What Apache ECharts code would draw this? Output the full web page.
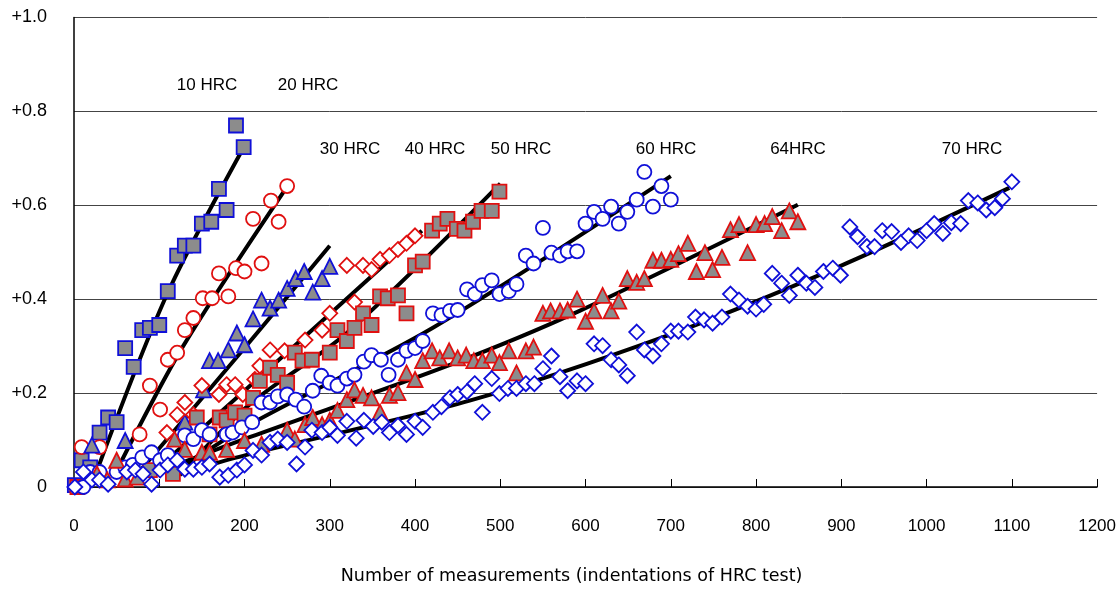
<!DOCTYPE html>
<html><head><meta charset="utf-8">
<script src="https://cdn.jsdelivr.net/npm/echarts@6/dist/echarts.min.js"></script>
<style>html,body{margin:0;padding:0;background:#fff}#c{width:1119px;height:590px}</style>
</head><body><div id="c"></div>
<script>
// ---- data (x = number of measurements, y = value) ----
const hrc10 = [[1,0.004],[9,0.057],[19,0.042],[30,0.116],[40,0.148],[50,0.138],[60,0.296],[70,0.256],[80,0.334],[89,0.339],[100,0.345],[110,0.417],[121,0.493],[130,0.514],[140,0.514],[150,0.561],[161,0.565],[170,0.635],[179,0.590],[190,0.770],[199,0.724]];
const hrc20 = [[9,0.085],[30,0.085],[77,0.112],[89,0.216],[101,0.165],[110,0.271],[121,0.286],[130,0.334],[140,0.360],[151,0.402],[162,0.402],[170,0.455],[181,0.406],[190,0.466],[200,0.459],[210,0.571],[220,0.476],[231,0.610],[240,0.565],[250,0.641]];
const hrc30 = [[21,0.089],[60,0.099],[130,0.138],[152,0.207],[159,0.269],[169,0.269],[181,0.292],[191,0.328],[200,0.303],[210,0.358],[220,0.398],[230,0.381],[240,0.398],[250,0.423],[260,0.444],[270,0.459],[280,0.415],[291,0.444],[300,0.470]];
const hrc40 = [[66,0.042],[109,0.116],[121,0.154],[130,0.180],[140,0.154],[150,0.216],[170,0.197],[179,0.218],[189,0.218],[198,0.197],[212,0.229],[218,0.258],[230,0.292],[247,0.290],[271,0.313],[291,0.334],[300,0.370],[320,0.472],[329,0.394],[339,0.472],[349,0.463],[359,0.485],[370,0.493],[380,0.506],[390,0.519],[400,0.535]];
const hrc50 = [[4,0.0],[89,0.036],[103,0.049],[116,0.028],[144,0.148],[159,0.112],[171,0.148],[179,0.142],[189,0.159],[200,0.152],[210,0.190],[218,0.226],[230,0.254],[239,0.239],[250,0.222],[259,0.286],[268,0.269],[279,0.271],[300,0.286],[309,0.334],[320,0.311],[329,0.339],[339,0.370],[349,0.345],[359,0.406],[368,0.402],[380,0.408],[390,0.370],[400,0.472],[409,0.480],[420,0.546],[429,0.561],[438,0.571],[449,0.550],[458,0.546],[468,0.565],[478,0.588],[490,0.588],[499,0.629]];
const hrc60 = [[11,0.0],[19,0.032],[30,0.032],[50,0.032],[60,0.042],[69,0.047],[80,0.063],[91,0.074],[101,0.057],[110,0.068],[130,0.110],[140,0.102],[150,0.121],[159,0.112],[179,0.112],[186,0.116],[197,0.127],[209,0.138],[220,0.180],[230,0.180],[239,0.193],[250,0.197],[260,0.186],[270,0.171],[280,0.205],[290,0.237],[300,0.222],[309,0.216],[320,0.231],[329,0.239],[340,0.267],[349,0.281],[360,0.271],[369,0.239],[380,0.271],[390,0.290],[400,0.296],[409,0.311],[421,0.370],[431,0.366],[441,0.375],[450,0.377],[461,0.421],[470,0.411],[479,0.430],[490,0.440],[499,0.411],[510,0.417],[519,0.432],[530,0.493],[539,0.476],[550,0.552],[560,0.499],[570,0.493],[579,0.502],[590,0.502],[600,0.561],[610,0.586],[620,0.571],[630,0.597],[639,0.561],[649,0.586],[660,0.612],[669,0.671],[679,0.597],[689,0.641],[700,0.612]];
const hrc64 = [[27,0.028],[39,0.015],[50,0.057],[60,0.017],[74,0.021],[118,0.102],[130,0.080],[150,0.074],[159,0.074],[179,0.080],[200,0.099],[220,0.091],[250,0.121],[259,0.102],[271,0.133],[280,0.148],[291,0.133],[300,0.142],[309,0.163],[320,0.186],[329,0.207],[339,0.195],[349,0.190],[359,0.159],[370,0.195],[380,0.201],[390,0.243],[400,0.229],[409,0.269],[420,0.290],[429,0.275],[440,0.290],[450,0.275],[460,0.281],[469,0.269],[479,0.269],[490,0.281],[499,0.265],[510,0.290],[519,0.243],[530,0.290],[539,0.298],[550,0.370],[559,0.375],[570,0.375],[579,0.377],[590,0.400],[600,0.353],[610,0.375],[620,0.408],[630,0.375],[639,0.396],[649,0.444],[660,0.436],[669,0.444],[679,0.483],[689,0.483],[700,0.485],[709,0.497],[720,0.519],[730,0.459],[740,0.499],[749,0.463],[760,0.489],[770,0.548],[780,0.559],[790,0.499],[800,0.559],[810,0.561],[819,0.576],[830,0.546],[839,0.588],[849,0.565]];
const hrc70 = [[1,0.0],[11,0.032],[21,0.015],[30,0.015],[40,0.006],[62,0.032],[72,0.036],[81,0.028],[91,0.006],[101,0.036],[110,0.047],[121,0.057],[130,0.038],[140,0.038],[150,0.042],[159,0.049],[171,0.021],[181,0.025],[191,0.036],[200,0.047],[210,0.078],[220,0.068],[230,0.095],[239,0.102],[250,0.095],[261,0.049],[271,0.085],[279,0.121],[291,0.116],[300,0.127],[309,0.110],[320,0.140],[331,0.104],[340,0.142],[351,0.129],[361,0.138],[370,0.116],[380,0.131],[390,0.112],[400,0.140],[409,0.127],[421,0.159],[431,0.171],[441,0.190],[450,0.197],[461,0.203],[470,0.220],[479,0.159],[490,0.231],[499,0.199],[509,0.210],[519,0.210],[530,0.220],[540,0.220],[550,0.252],[560,0.279],[570,0.235],[579,0.205],[590,0.226],[600,0.220],[610,0.305],[620,0.301],[630,0.271],[639,0.260],[649,0.237],[660,0.330],[669,0.292],[679,0.279],[689,0.305],[700,0.332],[709,0.332],[720,0.330],[729,0.362],[739,0.356],[749,0.349],[760,0.362],[770,0.411],[780,0.398],[790,0.385],[800,0.379],[809,0.389],[819,0.455],[830,0.434],[839,0.408],[849,0.451],[859,0.434],[869,0.425],[879,0.459],[890,0.466],[899,0.451],[910,0.554],[919,0.533],[930,0.512],[939,0.512],[948,0.546],[959,0.544],[970,0.521],[979,0.535],[989,0.525],[1000,0.546],[1009,0.561],[1019,0.540],[1029,0.563],[1040,0.561],[1049,0.610],[1060,0.605],[1070,0.590],[1080,0.595],[1089,0.614],[1100,0.650]];

// trend lines
const fit10 = [[28,0.04],[109,0.41],[198,0.72]];
const fit20 = [[50,0.035],[128,0.30],[250,0.64]];
const fit30 = [[73,0.025],[200,0.296],[300,0.514]];
const fit40 = [[89,0.025],[265,0.311],[408,0.546]];
const fit50 = [[124,0.025],[206,0.176],[320,0.328],[500,0.646]];
const fit60 = [[124,0.038],[206,0.133],[421,0.339],[700,0.662]];
const fit64 = [[113,0.042],[206,0.106],[441,0.26],[593,0.375],[849,0.601]];
const fit70 = [[163,0.049],[206,0.070],[464,0.184],[695,0.322],[898,0.470],[1097,0.637]];

const seriesNames = ['10 HRC','20 HRC','30 HRC','40 HRC','50 HRC','60 HRC','64HRC','70 HRC'];
const xTicks = [0,1200,100];
const yTicks = [0,1.0,0.2];
const xTitle = 'Number of measurements (indentations of HRC test)';

const BLUE = '#1010d8', RED = '#e01010', GRAY = '#8c8c8c';
const styles = [
  {symbol:'rect', size:14, fill:GRAY, border:BLUE},
  {symbol:'circle', size:14, fill:'#fff', border:RED},
  {symbol:'triangle', size:15, fill:GRAY, border:BLUE},
  {symbol:'diamond', size:15, fill:'#fff', border:RED},
  {symbol:'rect', size:14, fill:GRAY, border:RED},
  {symbol:'circle', size:14, fill:'#fff', border:BLUE},
  {symbol:'triangle', size:15, fill:GRAY, border:RED},
  {symbol:'diamond', size:15, fill:'#fff', border:BLUE}
];
const pts = [hrc10,hrc20,hrc30,hrc40,hrc50,hrc60,hrc64,hrc70];
const fits = [fit10,fit20,fit30,fit40,fit50,fit60,fit64,fit70];

const series = [];
fits.forEach((f,i)=>{
  series.push({type:'line', name:seriesNames[i]+' fit', data:f, symbol:'none', smooth:0.3,
    lineStyle:{color:'#000', width:4}, z:2, silent:true});
});
pts.forEach((p,i)=>{
  const s = styles[i];
  series.push({type:'scatter', name:seriesNames[i], data:p, symbol:s.symbol, symbolSize:s.size,
    itemStyle:{color:s.fill, borderColor:s.border, borderWidth:1.8, opacity:1}, z:3});
});

// annotation label positions (pixels, text centre)
const labelPos = [[207,85],[308,85],[350,149],[435,149],[521,149],[666,149],[798,149],[972,149]];

const chart = echarts.init(document.getElementById('c'), null, {renderer:'canvas'});
chart.setOption({
  animation:false,
  backgroundColor:'#fff',
  grid:{left:74, top:17.5, width:1024, height:472.5, containLabel:false},
  xAxis:{type:'value', min:xTicks[0], max:xTicks[1], interval:xTicks[2],
    name:xTitle, nameLocation:'middle', nameGap:80,
    nameTextStyle:{fontFamily:'DejaVu Sans, sans-serif', fontSize:17.5, color:'#000', padding:[0,28,0,0]},
    axisLine:{lineStyle:{color:'#000', width:1.5}},
    axisTick:{inside:true, length:8, lineStyle:{color:'#000'}},
    axisLabel:{margin:31, fontFamily:'Liberation Sans, Arial, sans-serif', fontSize:17, color:'#000',
      formatter:v=>String(v)},
    splitLine:{show:false}},
  yAxis:{type:'value', min:yTicks[0], max:yTicks[1], interval:yTicks[2],
    axisLine:{show:true, lineStyle:{color:'#000', width:1.5}},
    axisTick:{show:false},
    axisLabel:{margin:27, fontFamily:'Liberation Sans, Arial, sans-serif', fontSize:18, color:'#000',
      formatter:v=> v===0 ? '0' : '+' + v.toFixed(1)},
    splitLine:{show:true, lineStyle:{color:'#444', width:1}}},
  graphic: seriesNames.map((n,i)=>({type:'text', x:labelPos[i][0], y:labelPos[i][1], z:10,
    style:{text:n, fill:'#000', font:'17px "Liberation Sans", Arial, sans-serif', align:'center', verticalAlign:'middle'}})),
  series:series
});
</script></body></html>
